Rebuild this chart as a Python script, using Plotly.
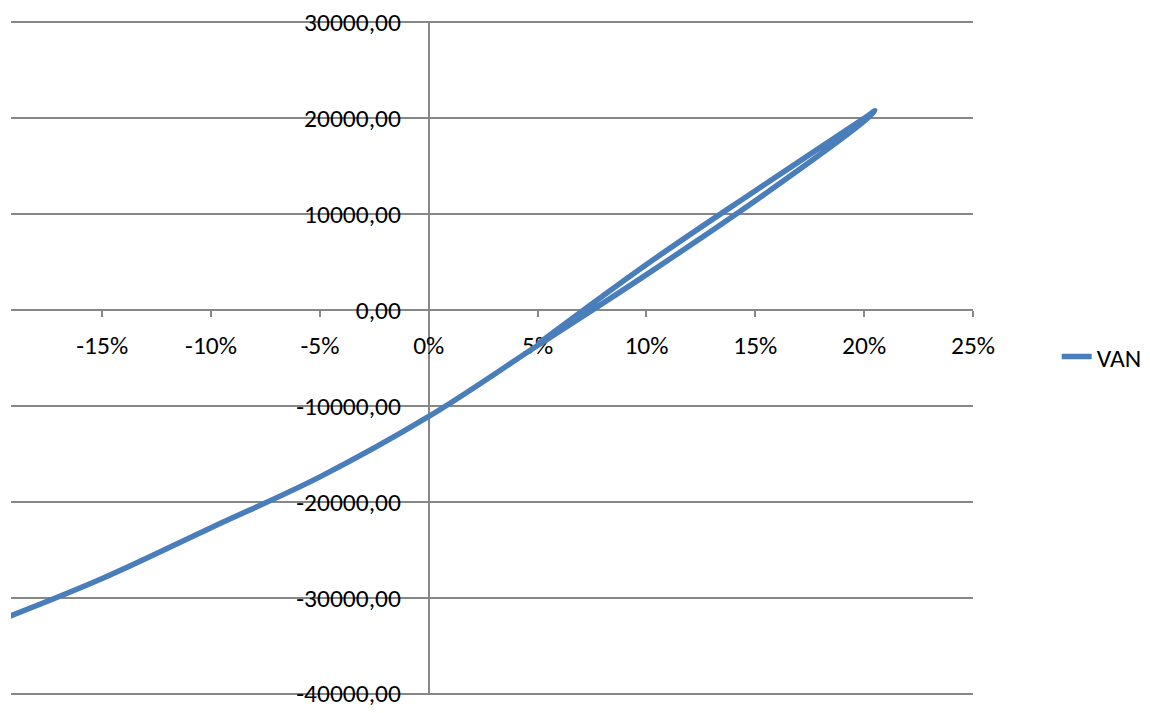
import plotly.graph_objects as go

# ---- data ----
rate_pct = [-20, -15, -10, -5, 0, 5, 10, 15, 20, 20.5, 20, 15, 10, 5]
van = [-32600, -28000, -22700, -17400, -11100, -3700, 3700, 11400, 19700,
       20800, 20000, 12450, 4750, -3550]

x_tick_vals = [-15, -10, -5, 0, 5, 10, 15, 20, 25]
x_tick_text = ["-15%", "-10%", "-5%", "0%", "5%", "10%", "15%", "20%", "25%"]
y_tick_vals = [30000, 20000, 10000, 0, -10000, -20000, -30000, -40000]
y_tick_text = ["30000,00", "20000,00", "10000,00", "0,00", "-10000,00",
               "-20000,00", "-30000,00", "-40000,00"]
series_name = "VAN"

FONT = "Carlito, Calibri, Lato, sans-serif"
GRID = "#878787"
BLUE = "#4A7EBB"
FS = 25.5

x_min, x_max = -19.19, 25
y_min, y_max = -40150, 30150

fig = go.Figure()
fig.add_trace(go.Scatter(
    x=rate_pct, y=van, mode="lines", name=series_name,
    line=dict(color=BLUE, width=5.5, shape="spline", smoothing=1),
))

fig.update_layout(
    width=1142, height=705,
    margin=dict(l=3, r=177, t=12.5, b=17.5, autoexpand=False),
    paper_bgcolor="white", plot_bgcolor="white",
    font=dict(family=FONT, size=FS, color="black"),
    showlegend=True,
    legend=dict(x=1.087, y=0.5015, xanchor="left", yanchor="middle",
                font=dict(family=FONT, size=FS, color="black"),
                bgcolor="rgba(0,0,0,0)"),
    xaxis=dict(
        range=[x_min, x_max], domain=[0, 1],
        anchor="free", position=(0 - y_min) / (y_max - y_min),
        tickmode="array", tickvals=x_tick_vals, ticktext=x_tick_text,
        ticks="outside", ticklen=6, tickwidth=1.5, tickcolor=GRID,
        ticklabelstandoff=7, ticklabeloverflow="allow",
        showline=True, linecolor=GRID, linewidth=1.5,
        showgrid=False, zeroline=False, automargin=False,
        layer="below traces", fixedrange=True,
    ),
    yaxis=dict(
        range=[y_min, y_max], domain=[0, 1],
        anchor="free", position=(0 - x_min) / (x_max - x_min),
        tickmode="array", tickvals=y_tick_vals, ticktext=y_tick_text,
        ticks="", ticklabelstandoff=22, ticklabeloverflow="allow",
        showline=True, linecolor=GRID, linewidth=1.5,
        showgrid=True, gridcolor=GRID, gridwidth=1.5,
        zeroline=False, automargin=False,
        layer="below traces", fixedrange=True,
    ),
)

fig.write_html("out.html")
